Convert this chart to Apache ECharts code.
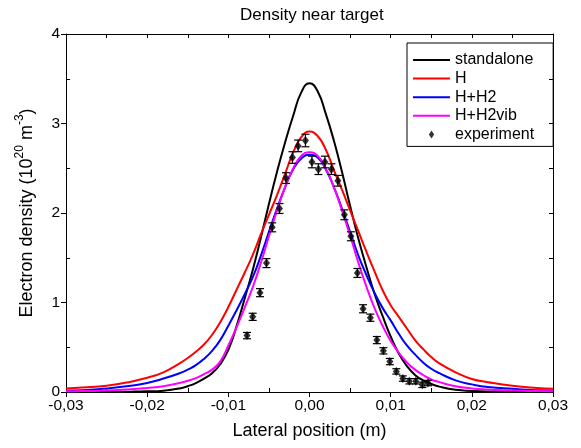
<!DOCTYPE html>
<html>
<head>
<meta charset="utf-8">
<script src="https://cdn.jsdelivr.net/npm/echarts@6/dist/echarts.min.js"></script>
<style>
html,body{margin:0;padding:0;background:#fff;}
#main{width:581px;height:448px;}
</style>
</head>
<body>
<div id="main"></div>
<script>
// x positions (m) of the model curves
var xPos = [-0.030,-0.028,-0.025,-0.022,-0.020,-0.018,-0.016,-0.015,-0.014,-0.013,-0.012,-0.011,-0.010,-0.009,-0.008,-0.007,-0.006,-0.005,-0.004,-0.003,-0.002,-0.001,
            0,
            0.001,0.002,0.003,0.004,0.005,0.006,0.007,0.008,0.009,0.010,0.011,0.012,0.013,0.014,0.015,0.016,0.018,0.020,0.022,0.025,0.028,0.030];
// model curves, 10^20 m^-3
var standalone = [0.002,0.002,0.003,0.004,0.007,0.015,0.04,0.065,0.10,0.15,0.21,0.31,0.47,0.73,1.04,1.36,1.72,2.10,2.46,2.79,3.09,3.35,
                  3.45,
                  3.36,3.11,2.81,2.46,2.08,1.72,1.40,1.10,0.85,0.62,0.43,0.29,0.19,0.13,0.09,0.06,0.025,0.012,0.006,0.004,0.003,0.002];
var hOnly = [0.04,0.05,0.07,0.115,0.16,0.22,0.32,0.38,0.45,0.53,0.64,0.78,0.95,1.14,1.33,1.53,1.76,1.98,2.20,2.44,2.68,2.85,
             2.91,
             2.86,2.71,2.48,2.26,2.03,1.80,1.57,1.35,1.14,0.97,0.84,0.71,0.58,0.48,0.39,0.32,0.22,0.145,0.11,0.07,0.045,0.035];
var hH2 = [0.015,0.02,0.04,0.07,0.10,0.15,0.21,0.25,0.30,0.37,0.46,0.58,0.74,0.91,1.09,1.28,1.52,1.79,2.05,2.29,2.49,2.61,
           2.65,
           2.62,2.49,2.29,2.05,1.79,1.53,1.31,1.11,0.94,0.80,0.65,0.52,0.42,0.33,0.26,0.21,0.13,0.085,0.055,0.035,0.02,0.015];
var hH2vib = [0.008,0.01,0.018,0.03,0.045,0.065,0.10,0.125,0.155,0.20,0.25,0.34,0.52,0.72,0.94,1.17,1.44,1.74,2.03,2.29,2.50,2.64,
              2.68,
              2.64,2.50,2.29,2.03,1.75,1.45,1.18,0.94,0.74,0.57,0.44,0.33,0.25,0.19,0.14,0.11,0.065,0.04,0.028,0.016,0.01,0.008];

// experiment
var expX = [-0.0077,-0.0070,-0.0061,-0.0053,-0.0046,-0.0037,-0.0029,-0.0021,-0.0014,-0.0005,0.0003,0.0011,0.0019,0.0027,0.0035,
            0.0043,0.0051,0.0059,0.0066,0.0075,0.0083,0.0091,0.0099,0.0107,0.0115,0.0123,0.0131,0.0139,0.0146];
var expY = [0.63,0.84,1.11,1.44,1.84,2.05,2.39,2.62,2.75,2.81,2.57,2.49,2.57,2.49,2.36,
            1.98,1.74,1.33,0.93,0.83,0.58,0.46,0.34,0.23,0.15,0.12,0.12,0.08,0.10];
var expErr = [0.035,0.04,0.045,0.05,0.05,0.055,0.06,0.065,0.065,0.07,0.065,0.06,0.065,0.06,0.06,
              0.055,0.05,0.05,0.045,0.04,0.04,0.035,0.035,0.03,0.03,0.03,0.03,0.03,0.03];

var xTicks = [-0.03,-0.02,-0.01,0,0.01,0.02,0.03];
var xTickLabels = ['-0,03','-0,02','-0,01','0,00','0,01','0,02','0,03'];
var yTicks = [0,1,2,3,4];
var yTickLabels = ['0','1','2','3','4'];

var fontFam = 'Liberation Sans, Arial, sans-serif';

function pairs(xs, ys){
	var out = [];
	for(var i=0;i<xs.length;i++){
		out.push([xs[i], ys[i]]);
	}
	return out;
}
function xLabel(v){
	for(var i=0;i<xTicks.length;i++){
		if(Math.abs(xTicks[i]-v)<1e-9) return xTickLabels[i];
	}
	return '';
}
function yLabel(v){
	for(var i=0;i<yTicks.length;i++){
		if(Math.abs(yTicks[i]-v)<1e-9) return yTickLabels[i];
	}
	return '';
}
// one model curve
function curve(name, ys, color){
	return {
		name:name,
		type:'line',
		data:pairs(xPos, ys),
		symbol:'none',
		showSymbol:false,
		smooth:true,
		lineStyle:{color:color,width:2},
		itemStyle:{color:color},
		z:3
	};
}

var errData = [];
for(var i=0;i<expX.length;i++){
	errData.push([expX[i], expY[i]-expErr[i], expY[i]+expErr[i]]);
}

var myChart = echarts.init(document.getElementById('main'));

var option = {
	backgroundColor:'#fff',
	animation:false,
	textStyle:{fontFamily:fontFam},
	title:{
		text:'Density near target',
		left:235,
		top:2,
		textStyle:{fontFamily:fontFam,fontSize:17,fontWeight:'normal',color:'#000'}
	},
	legend:{
		left:407,
		top:43,
		orient:'vertical',
		align:'left',
		padding:[9,19,4,6],
		itemGap:2.6,
		itemWidth:37,
		itemHeight:8,
		symbolKeepAspect:true,
		borderColor:'#000',
		borderWidth:1,
		textStyle:{fontFamily:fontFam,fontSize:16,color:'#000'},
		data:[
			{name:'standalone',icon:'path://M0,0L40,0L40,2.2L0,2.2Z'},
			{name:'H',icon:'path://M0,0L40,0L40,2.2L0,2.2Z'},
			{name:'H+H2',icon:'path://M0,0L40,0L40,2.2L0,2.2Z'},
			{name:'H+H2vib',icon:'path://M0,0L40,0L40,2.2L0,2.2Z'},
			{name:'experiment',icon:'path://M3,0L6,4.5L3,9L0,4.5Z'}
		]
	},
	grid:{left:66,right:28,top:34,bottom:56},
	xAxis:[
		{
			type:'value',min:-0.03,max:0.03,interval:0.01,position:'bottom',
			name:'Lateral position (m)',nameLocation:'middle',nameGap:30,
			nameTextStyle:{fontFamily:fontFam,fontSize:18,color:'#000'},
			axisLine:{onZero:false,lineStyle:{color:'#000',width:1}},
			axisTick:{inside:false,length:5,lineStyle:{color:'#000'}},
			axisLabel:{color:'#000',fontSize:15.5,fontFamily:fontFam,margin:6,formatter:xLabel},
			splitLine:{show:false}
		},
		{
			// minor ticks on the bottom, pointing in
			type:'value',min:-0.03,max:0.03,position:'bottom',
			axisLine:{show:false,onZero:false},
			axisTick:{inside:true,length:4,lineStyle:{color:'#000'},customValues:[-0.025,-0.015,-0.005,0.005,0.015,0.025]},
			axisLabel:{show:false},
			splitLine:{show:false}
		},
		{
			type:'value',min:-0.03,max:0.03,interval:0.005,position:'top',
			axisLine:{onZero:false,lineStyle:{color:'#000',width:1}},
			axisTick:{inside:true,length:4,lineStyle:{color:'#000'}},
			axisLabel:{show:false},
			splitLine:{show:false}
		}
	],
	yAxis:[
		{
			type:'value',min:0,max:4,interval:1,position:'left',
			name:'{a|Electron density (10}{s|20}{a| m}{s|-3}{a|)}',
			nameLocation:'middle',nameGap:30,nameRotate:90,
			nameTextStyle:{
				fontFamily:fontFam,color:'#000',
				rich:{
					a:{fontFamily:fontFam,fontSize:18,color:'#000',lineHeight:22,verticalAlign:'bottom'},
					s:{fontFamily:fontFam,fontSize:12,color:'#000',lineHeight:22,verticalAlign:'top'}
				}
			},
			axisLine:{onZero:false,lineStyle:{color:'#000',width:1}},
			axisTick:{inside:false,length:5,lineStyle:{color:'#000'}},
			axisLabel:{color:'#000',fontSize:15.5,fontFamily:fontFam,margin:6,formatter:yLabel},
			splitLine:{show:false}
		},
		{
			type:'value',min:0,max:4,position:'left',
			axisLine:{show:false,onZero:false},
			axisTick:{inside:true,length:4,lineStyle:{color:'#000'},customValues:[0.5,1.5,2.5,3.5]},
			axisLabel:{show:false},
			splitLine:{show:false}
		},
		{
			type:'value',min:0,max:4,interval:0.5,position:'right',
			axisLine:{onZero:false,lineStyle:{color:'#000',width:1}},
			axisTick:{inside:true,length:4,lineStyle:{color:'#000'}},
			axisLabel:{show:false},
			splitLine:{show:false}
		}
	],
	series:[
		curve('standalone', standalone, '#000000'),
		curve('H', hOnly, '#ff0000'),
		curve('H+H2', hH2, '#0000ff'),
		curve('H+H2vib', hH2vib, '#ff00ff'),
		{
			name:'experiment',
			type:'scatter',
			symbol:'diamond',
			symbolSize:[7,9],
			itemStyle:{color:'#000'},
			data:pairs(expX,expY),
			z:5
		},
		{
			// error bars
			name:'experiment err',
			type:'custom',
			data:errData,
			z:4,
			renderItem:function(params, api){
				var lo = api.coord([api.value(0), api.value(1)]);
				var hi = api.coord([api.value(0), api.value(2)]);
				var w = 4;
				var st = {stroke:'#000',lineWidth:1.2};
				return {
					type:'group',
					children:[
						{type:'line',shape:{x1:lo[0],y1:lo[1],x2:hi[0],y2:hi[1]},style:st},
						{type:'line',shape:{x1:lo[0]-w,y1:lo[1],x2:lo[0]+w,y2:lo[1]},style:st},
						{type:'line',shape:{x1:hi[0]-w,y1:hi[1],x2:hi[0]+w,y2:hi[1]},style:st}
					]
				};
			}
		}
	]
};
myChart.setOption(option);
</script>
</body>
</html>
